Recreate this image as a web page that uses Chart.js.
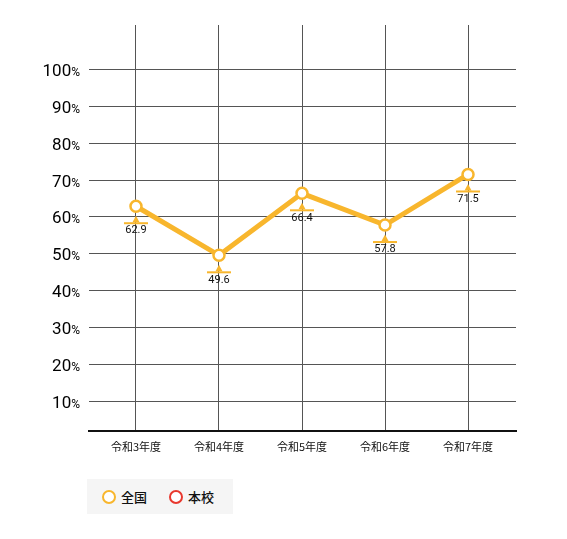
<!DOCTYPE html>
<html>
<head>
<meta charset="utf-8">
<script src="https://cdn.jsdelivr.net/npm/chart.js@4"></script>
<style>
body{margin:0;background:#fff;}
#wrap{position:relative;width:567px;height:539px;}
#legend{position:absolute;left:87px;top:479px;width:146px;height:35px;background:#f5f5f5;display:flex;align-items:center;font:500 13px "Noto Sans CJK JP";color:#111;}
.item{display:flex;align-items:center;}
.dot{box-sizing:border-box;width:14px;height:14px;border-radius:50%;border:2.5px solid;background:#fff;margin-right:5px;}
</style>
</head>
<body>
<div id="wrap">
  <canvas id="chart" width="567" height="539"></canvas>
  <div id="legend"></div>
</div>
<script>
// data
const years = ['令和3年度', '令和4年度', '令和5年度', '令和6年度', '令和7年度'];
const national = [62.9, 49.6, 66.4, 57.8, 71.5];
const school = [null, null, null, null, null];
const yTicks = [10, 20, 30, 40, 50, 60, 70, 80, 90, 100];

const yellow = '#f8b62d';
const red = '#e8382e';
const gridColor = '#555';

// % labels with a smaller percent sign
const yLabels = {
  id: 'yLabels',
  afterDraw(chart) {
    const ctx = chart.ctx;
    const y = chart.scales.y;
    ctx.save();
    ctx.fillStyle = '#000';
    ctx.textAlign = 'right';
    ctx.textBaseline = 'alphabetic';
    yTicks.forEach(v => {
      const py = y.getPixelForValue(v) + 6.5;
      ctx.font = '12px Roboto';
      const w = ctx.measureText('%').width;
      ctx.fillText('%', 80, py);
      ctx.font = '17px Roboto';
      ctx.fillText(String(v), 80 - w, py);
    });
    ctx.restore();
  }
};

// value callouts under the 全国 points
const valueTags = {
  id: 'valueTags',
  afterDatasetsDraw(chart) {
    const ctx = chart.ctx;
    const meta = chart.getDatasetMeta(0);
    ctx.save();
    meta.data.forEach((pt, i) => {
      const x = pt.x, y = pt.y;
      ctx.fillStyle = yellow;
      ctx.beginPath();
      ctx.moveTo(x, y + 9.5);
      ctx.lineTo(x - 3.5, y + 16);
      ctx.lineTo(x + 3.5, y + 16);
      ctx.closePath();
      ctx.fill();
      ctx.fillRect(x - 12, y + 16, 24, 2);
      ctx.fillStyle = '#111';
      ctx.font = '11px Roboto';
      ctx.textAlign = 'center';
      ctx.textBaseline = 'middle';
      ctx.fillText(national[i].toFixed(1), x, y + 24.5);
    });
    ctx.restore();
  }
};

const ctx = document.getElementById('chart').getContext('2d');
const myChart = new Chart(ctx, {
  type: 'line',
  data: {
    datasets: [{
      label: '全国',
      data: national.map((v, i) => ({x: i, y: v})),
      borderColor: yellow,
      borderWidth: 5,
      pointRadius: 5.5,
      pointBorderWidth: 2.5,
      pointBackgroundColor: '#fff',
      pointBorderColor: yellow,
      tension: 0
    }, {
      label: '本校',
      data: school.map((v, i) => ({x: i, y: v})),
      borderColor: red,
      borderWidth: 5,
      pointRadius: 5.5,
      pointBorderWidth: 2.5,
      pointBackgroundColor: '#fff',
      pointBorderColor: red
    }]
  },
  options: {
    responsive: false,
    animation: false,
    layout: {padding: {top: 25, right: 51, left: 0, bottom: 0}},
    plugins: {legend: {display: false}, tooltip: {enabled: false}},
    scales: {
      x: {
        type: 'linear',
        min: -0.566,
        max: 4.578,
        afterBuildTicks: s => { s.ticks = years.map((_, i) => ({value: i})); },
        afterFit: s => { s.height = 108; },
        grid: {color: gridColor, lineWidth: 1, drawTicks: false},
        border: {color: '#111', width: 2},
        ticks: {
          callback: v => years[v],
          color: '#111',
          padding: 9,
          maxRotation: 0,
          font: {family: '"Noto Sans CJK JP"', size: 11}
        }
      },
      y: {
        min: 2,
        max: 112,
        afterBuildTicks: s => { s.ticks = yTicks.map(v => ({value: v})); },
        afterFit: s => { s.width = 89; },
        grid: {color: gridColor, lineWidth: 1, drawTicks: false},
        border: {display: false},
        ticks: {display: false}
      }
    }
  },
  plugins: [yLabels, valueTags]
});

// legend from the datasets
const legend = document.getElementById('legend');
myChart.data.datasets.forEach((ds, i) => {
  const item = document.createElement('div');
  item.className = 'item';
  item.style.marginLeft = i === 0 ? '15px' : '22px';
  const dot = document.createElement('span');
  dot.className = 'dot';
  dot.style.borderColor = ds.borderColor;
  const txt = document.createElement('span');
  txt.textContent = ds.label;
  item.appendChild(dot);
  item.appendChild(txt);
  legend.appendChild(item);
});
</script>
</body>
</html>
